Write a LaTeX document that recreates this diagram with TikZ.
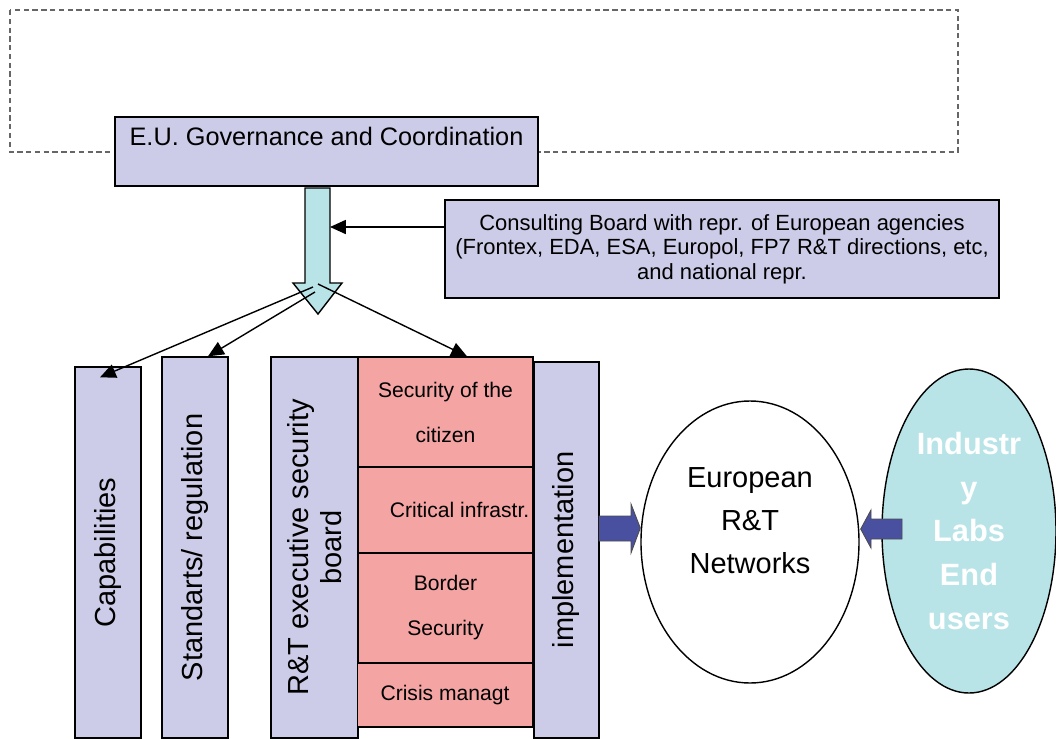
\documentclass[tikz,border=0pt]{standalone}
\usepackage{fontspec}
\setmainfont{Liberation Sans}
\usetikzlibrary{shapes.geometric,arrows.meta,calc}
\definecolor{lavbox}{RGB}{204,204,232}
\definecolor{pinkbox}{RGB}{245,164,164}
\definecolor{cyanbox}{RGB}{184,228,232}
\definecolor{bluearr}{RGB}{74,80,160}
\newcommand\pxu{0.02cm}
\NewDocumentCommand\fsz{mm}{\fontsize{#1}{#2}\selectfont}

\begin{document}
\begin{tikzpicture}[x=0.02cm,y=-0.02cm,>={Triangle[length=9pt,width=8pt]},
    box/.style={draw,fill=lavbox,inner sep=0pt,line width=0.8pt},
    col/.style={box,rotate=90,font=\fsz{16.5}{18.5},align=center},
    pinkbox/.style={draw,fill=pinkbox,inner sep=0pt,line width=0.8pt,
        minimum width=175*\pxu,align=center,font=\fsz{12}{25.6}}]
            \useasboundingbox (0,0) rectangle (1056,738);
            \draw[black!60,line width=0.6pt,dash pattern=on 3pt off 2pt] (10,10) rectangle (958,152);
            % top boxes
            \node[box,minimum width=423*\pxu,minimum height=69*\pxu,align=center,
                font=\fsz{14.4}{17}] (eu) at (326.5,151.5) {E.U. Governance and Coordination\\ \mbox{}};
            \node[box,minimum width=554*\pxu,minimum height=98*\pxu,align=center,
                font=\fsz{12.5}{13.9}] (consult) at (722,249)
                {Consulting Board with repr. of European agencies\\
                 (Frontex, EDA, ESA, Europol, FP7 R\&T directions, etc,\\
                 and national repr.};
            % block arrow down
            \filldraw[fill=cyanbox,line width=0.8pt] (305,188) -- (305,283) -- (293,283) -- (318,314)
                -- (342,283) -- (330,283) -- (330,188) -- cycle;
            \coordinate (hub) at (318,314);
            \coordinate (shaft) at (330,227);
            % columns
            \node[col,minimum width=371*\pxu,minimum height=66*\pxu] (capab) at (108,552.5) {Capabilities};
            \node[col,minimum width=381*\pxu,minimum height=66*\pxu] (stand) at (195,547.5) {Standarts/ regulation};
            \node[col,minimum width=381*\pxu,minimum height=87*\pxu] (rtboard) at (314.5,547.5) {R\&T executive security\\board};
            \node[col,minimum width=376*\pxu,minimum height=65*\pxu] (impl) at (566.5,550) {implementation};
            \node[pinkbox,minimum height=110*\pxu] (citizen) at (445.5,412) {Security of the\\citizen};
            \node[pinkbox,minimum height=86*\pxu] (infra) at (445.5,510) {\hspace{16pt}Critical infrastr.};
            \node[pinkbox,minimum height=110*\pxu] (border) at (445.5,608) {Border\\Security};
            \node[pinkbox,minimum height=64*\pxu] (crisis) at (445,695) {Crisis managt};
            % networks
            \node[ellipse,draw,fill=white,line width=0.8pt,minimum width=218*\pxu,minimum height=282*\pxu,
                inner sep=0pt,align=center,font=\fsz{16.5}{24.5}] (eurnet) at (750,542)
                {European\\R\&T\\Networks\\ \mbox{}};
            \node[ellipse,draw,fill=cyanbox,line width=0.8pt,minimum width=174*\pxu,minimum height=324*\pxu,
                inner sep=0pt,align=center,text=white,font=\fsz{17.5}{25}\bfseries] (industry) at (969,531)
                {Industr\\y\\Labs\\End\\users};
            % arrows
            \draw[->,line width=0.8pt] (consult.west |- shaft) -- (shaft);
            \draw[->,line width=0.8pt] ($(hub)+(-5,-27)$) -- ($(capab.east)+(-8,11)$);
            \draw[->,line width=0.8pt] ($(hub)+(-3,-22)$) -- ($(stand.east)+(13,0)$);
            \draw[->,line width=0.8pt] ($(hub)+(0,-30)$) -- ($(citizen.north)+(21.5,0)$);
            \filldraw[fill=bluearr,draw=black!70,line width=0.5pt] (599,516) -- (631,516) -- (631,504)
                -- ($(eurnet.west)+(0,-14)$) -- (631,553) -- (631,541) -- (599,541) -- cycle;
            \filldraw[fill=bluearr,draw=black!70,line width=0.5pt] (902,519) -- (871,519) -- (871,510)
                -- ($(eurnet.east)+(1,-13)$) -- (871,548) -- (871,539) -- (902,539) -- cycle;
        \end{tikzpicture}
\end{document}
